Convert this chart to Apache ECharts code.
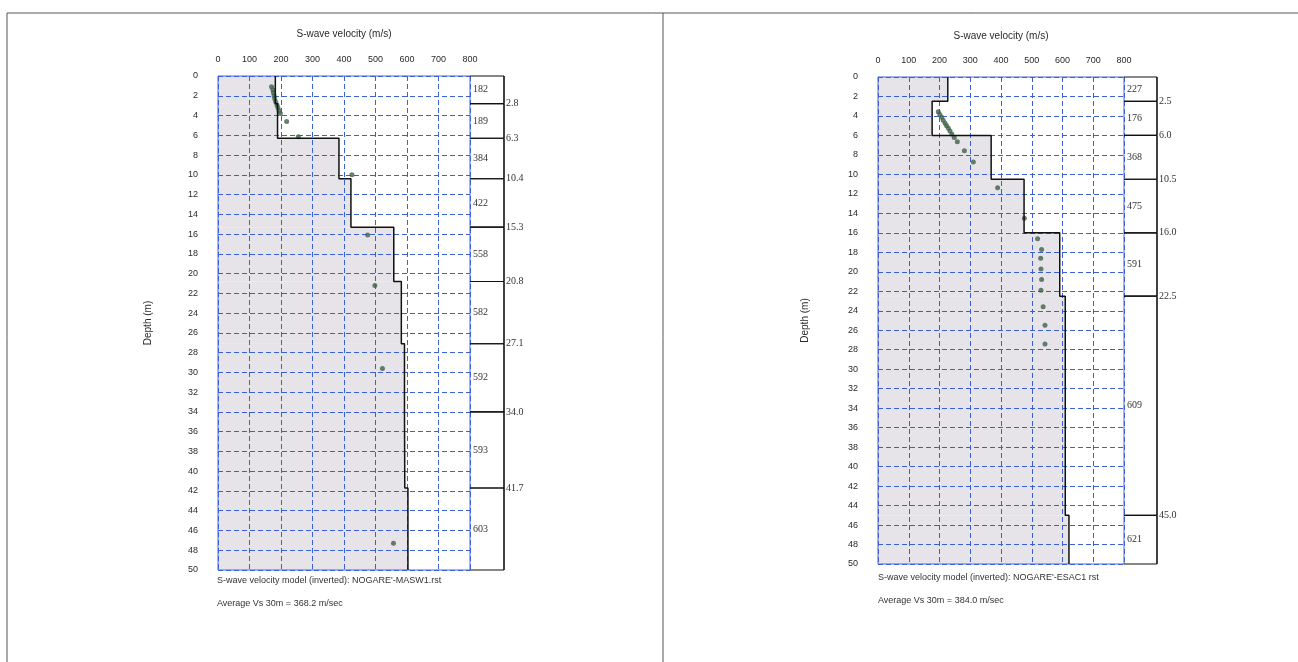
<!DOCTYPE html>
<html>
<head>
<meta charset="utf-8">
<script src="https://cdn.jsdelivr.net/npm/echarts@6/dist/echarts.min.js"></script>
<style>
  html, body { margin: 0; padding: 0; background: #fff; }
  #chart { width: 1298px; height: 662px; }
</style>
</head>
<body>
<div id="chart"></div>
<script>
// layer model, left profile (MASW1)
const leftBoundaries = [2.8, 6.3, 10.4, 15.3, 20.8, 27.1, 34.0, 41.7];
const leftVelocities = [182, 189, 384, 422, 558, 582, 592, 593, 603];
// layer model, right profile (ESAC1)
const rightBoundaries = [2.5, 6.0, 10.5, 16.0, 22.5, 45.0];
const rightVelocities = [227, 176, 368, 475, 591, 609, 621];
const maxDepth = 50;

// measured points [velocity, depth]
const leftPoints = [
  [170, 1.1], [174, 1.4], [176, 1.7], [178, 2.0], [180, 2.3], [183, 2.6],
  [187, 2.9], [190, 3.2], [194, 3.5], [198, 3.8], [218, 4.6], [255, 6.15],
  [425, 10.0], [475, 16.1], [498, 21.2], [522, 29.6], [557, 47.3]
];
const rightPoints = [
  [196, 3.56], [201, 3.85], [207, 4.14], [212, 4.45], [218, 4.76], [223, 5.0],
  [229, 5.27], [234, 5.55], [240, 5.85], [248, 6.2], [258, 6.64], [281, 7.57],
  [310, 8.73], [389, 11.36], [476, 14.5], [519, 16.6], [532, 17.7], [529, 18.6],
  [530, 19.7], [532, 20.8], [530, 21.9], [537, 23.6], [543, 25.5], [543, 27.4]
];

const xTitle = 'S-wave velocity (m/s)';
const yTitle = 'Depth (m)';
const leftCaption = ["S-wave velocity model (inverted): NOGARE'-MASW1.rst", 'Average Vs 30m = 368.2 m/sec'];
const rightCaption = ["S-wave velocity model (inverted): NOGARE'-ESAC1 rst", 'Average Vs 30m = 384.0 m/sec'];

const gridBlue = '#3a5fd6';
const ink = '#2a2a2a';
const sans = 'Liberation Sans';
const serif = 'Liberation Serif';

// turn boundaries + velocities into [vel, top, bottom, index]
function layers(bounds, vels) {
  const tops = [0].concat(bounds);
  const bots = bounds.concat([maxDepth]);
  return vels.map((v, i) => [v, tops[i], bots[i], i]);
}
function stepLine(ls) {
  const pts = [];
  ls.forEach(l => { pts.push([l[0], l[1]]); pts.push([l[0], l[2]]); });
  return pts;
}

const leftLayers = layers(leftBoundaries, leftVelocities);
const rightLayers = layers(rightBoundaries, rightVelocities);

function fillItem(params, api) {
  const p0 = api.coord([0, api.value(1)]);
  const p1 = api.coord([api.value(0), api.value(2)]);
  return {
    type: 'rect',
    shape: { x: p0[0], y: p0[1], width: p1[0] - p0[0], height: p1[1] - p0[1] },
    style: { fill: '#e6e4e9' }
  };
}

function tableItem(params, api) {
  const vel = api.value(0), top = api.value(1), bot = api.value(2);
  const a = api.coord([0, top]);
  const b = api.coord([1, bot]);
  const last = bot >= maxDepth;
  const children = [
    { type: 'line', shape: { x1: a[0], y1: a[1], x2: b[0], y2: a[1] }, style: { stroke: '#111', lineWidth: 1.2 } },
    { type: 'line', shape: { x1: b[0], y1: a[1], x2: b[0], y2: b[1] }, style: { stroke: '#111', lineWidth: 1.6 } },
    { type: 'line', shape: { x1: a[0], y1: b[1], x2: b[0], y2: b[1] }, style: { stroke: '#111', lineWidth: 1.2 } },
    { type: 'text', x: a[0] + 3, y: (a[1] + b[1]) / 2,
      style: { text: String(vel), fill: '#333', font: '10px ' + serif, verticalAlign: 'middle' } }
  ];
  if (!last) {
    children.push({ type: 'text', x: b[0] + 2, y: b[1],
      style: { text: bot.toFixed(1), fill: '#333', font: '10px ' + serif, verticalAlign: 'middle' } });
  }
  return { type: 'group', children: children };
}

function plotX(gridIndex, gap) {
  return {
    gridIndex, type: 'value', position: 'top', min: 0, max: 800, interval: 100,
    axisLine: { show: false }, axisTick: { show: false },
    axisLabel: { fontSize: 9, color: ink, fontFamily: sans, margin: 12 },
    splitLine: { show: true, lineStyle: { color: gridBlue, type: [5, 3], width: 1 } },
    name: xTitle, nameLocation: 'middle', nameGap: gap,
    nameTextStyle: { fontSize: 10, color: ink, fontFamily: sans }
  };
}
function plotY(gridIndex, gap) {
  return {
    gridIndex, type: 'value', inverse: true, min: 0, max: maxDepth, interval: 2,
    axisLine: { show: false }, axisTick: { show: false },
    axisLabel: { fontSize: 9, color: ink, fontFamily: sans, margin: 20 },
    splitLine: { show: true, lineStyle: { color: gridBlue, type: [5, 3], width: 1 } },
    name: yTitle, nameLocation: 'middle', nameGap: gap,
    nameTextStyle: { fontSize: 10, color: ink, fontFamily: sans }
  };
}
function tableX(gridIndex) {
  return { gridIndex, type: 'value', min: 0, max: 1, show: false };
}
function tableY(gridIndex) {
  return { gridIndex, type: 'value', inverse: true, min: 0, max: maxDepth, show: false };
}

function captionText(x, y, text) {
  return { type: 'text', left: x, top: y, style: { text, fill: '#333', font: '9px ' + sans } };
}
function frameLine(x1, y1, x2, y2) {
  return { type: 'line', shape: { x1, y1, x2, y2 }, style: { stroke: '#555', lineWidth: 1 } };
}

const chart = echarts.init(document.getElementById('chart'));
chart.setOption({
  backgroundColor: '#fff',
  animation: false,
  grid: [
    { left: 218, top: 76, width: 252, height: 494, show: true, borderColor: '#4a66d6', borderWidth: 1 },
    { left: 470, top: 76, width: 34, height: 494 },
    { left: 878, top: 77, width: 246, height: 487, show: true, borderColor: '#4a66d6', borderWidth: 1 },
    { left: 1124, top: 77, width: 33, height: 487 }
  ],
  xAxis: [plotX(0, 37), tableX(1), plotX(2, 36), tableX(3)],
  yAxis: [plotY(0, 65), tableY(1), plotY(2, 68), tableY(3)],
  series: [
    { type: 'custom', xAxisIndex: 0, yAxisIndex: 0, z: -1, renderItem: fillItem, data: leftLayers, encode: { x: 0, y: 1 } },
    { type: 'line', xAxisIndex: 0, yAxisIndex: 0, data: stepLine(leftLayers), symbol: 'none',
      lineStyle: { color: '#111', width: 1.5 } },
    { type: 'scatter', xAxisIndex: 0, yAxisIndex: 0, data: leftPoints, symbolSize: 5,
      itemStyle: { color: '#3f6248' } },
    { type: 'custom', xAxisIndex: 1, yAxisIndex: 1, renderItem: tableItem, data: leftLayers, encode: { x: 0, y: 1 } },

    { type: 'custom', xAxisIndex: 2, yAxisIndex: 2, z: -1, renderItem: fillItem, data: rightLayers, encode: { x: 0, y: 1 } },
    { type: 'line', xAxisIndex: 2, yAxisIndex: 2, data: stepLine(rightLayers), symbol: 'none',
      lineStyle: { color: '#111', width: 1.5 } },
    { type: 'scatter', xAxisIndex: 2, yAxisIndex: 2, data: rightPoints, symbolSize: 5,
      itemStyle: { color: '#3f6248' } },
    { type: 'custom', xAxisIndex: 3, yAxisIndex: 3, renderItem: tableItem, data: rightLayers, encode: { x: 0, y: 1 } }
  ],
  graphic: [
    frameLine(7, 13, 1298, 13),
    frameLine(7, 13, 7, 662),
    frameLine(663, 13, 663, 662),
    captionText(217, 576, leftCaption[0]),
    captionText(217, 599, leftCaption[1]),
    captionText(878, 573, rightCaption[0]),
    captionText(878, 596, rightCaption[1])
  ]
});
</script>
</body>
</html>
